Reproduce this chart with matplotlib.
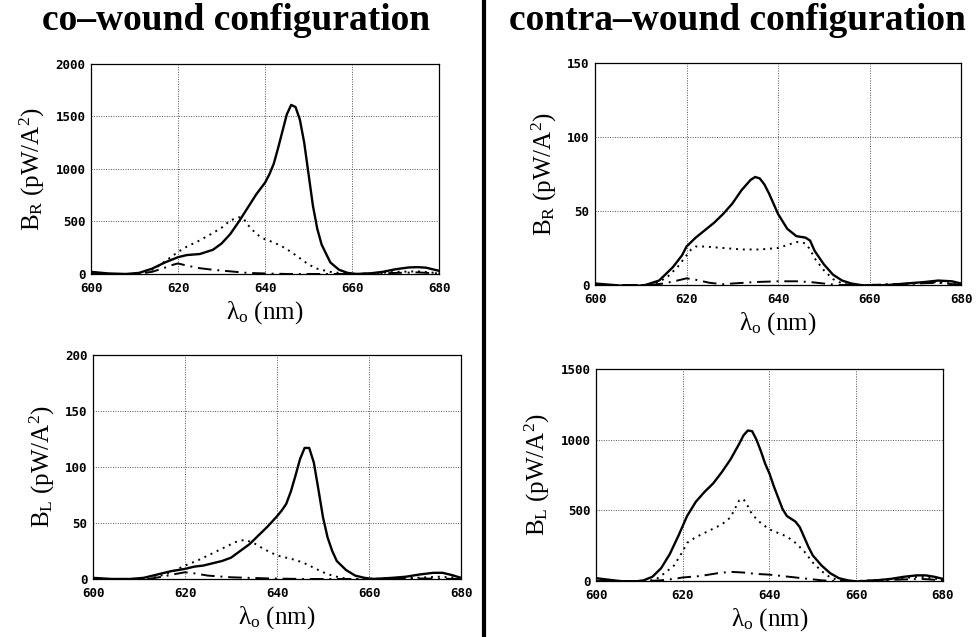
import matplotlib
matplotlib.use("Agg")
import matplotlib.pyplot as plt
from matplotlib.lines import Line2D

plt.rcParams['mathtext.fontset'] = 'custom'
plt.rcParams['mathtext.rm'] = 'Liberation Serif'
plt.rcParams['mathtext.it'] = 'Liberation Serif'

# --- co-wound, B_R ---
coR_sol_x = [600, 604, 608, 611, 614, 617, 620, 622, 625, 628, 630, 632, 634, 636, 638, 640, 641, 642, 643,
             644, 645, 646, 647, 648, 649, 650, 651, 652, 653, 655, 657, 659, 661, 664, 667, 670, 673, 675, 677, 680]
coR_sol_y = [20, 5, 0, 10, 50, 110, 160, 180, 190, 230, 290, 380, 500, 630, 760, 870, 950, 1050, 1200,
             1360, 1520, 1610, 1590, 1470, 1250, 950, 650, 430, 280, 110, 40, 10, 0, 5, 20, 45, 62, 65, 60, 30]
coR_dot_x = [600, 612, 615, 618, 620, 622, 625, 628, 630, 632, 634, 635, 636, 638, 640, 642, 644, 646, 648,
             650, 652, 655, 658, 660, 665, 670, 675, 678, 680]
coR_dot_y = [0, 0, 60, 150, 210, 260, 320, 390, 440, 510, 540, 530, 470, 380, 330, 300, 260, 210, 150,
             90, 50, 20, 5, 0, 5, 20, 25, 15, 5]
coR_dd_x = [600, 610, 614, 617, 619, 620, 622, 625, 628, 632, 636, 640, 645, 650, 660, 670, 675, 680]
coR_dd_y = [0, 0, 20, 60, 90, 100, 80, 55, 40, 25, 10, 5, 0, 0, 0, 10, 15, 5]

# --- contra-wound, B_R ---
ctR_sol_x = [600, 604, 608, 611, 614, 617, 619, 620, 622, 624, 626, 628, 630, 632, 634, 635, 636, 637, 638,
             640, 642, 644, 646, 647, 648, 650, 652, 654, 656, 658, 660, 664, 668, 672, 675, 678, 680]
ctR_sol_y = [1, 0, -1, 0, 3, 12, 20, 26, 32, 37, 42, 48, 55, 64, 71, 73, 72, 68, 62,
             48, 38, 33, 32, 30, 23, 14, 7, 3, 1, 0, -0.5, 0, 1, 2, 3, 2.5, 1]
ctR_dot_x = [600, 612, 614, 616, 618, 620, 621, 622, 624, 628, 632, 636, 640, 642, 644, 645, 646, 647, 648,
             650, 652, 654, 656, 660, 670, 675, 680]
ctR_dot_y = [0, 0, 2, 6, 12, 20, 24, 26, 26, 25, 24, 24, 25, 27, 29, 29, 28, 24, 18,
             10, 4, 1, 0, 0, 1, 2, 0]
ctR_dd_x = [600, 612, 615, 618, 620, 622, 625, 628, 630, 635, 640, 644, 647, 650, 653, 660, 670, 675, 680]
ctR_dd_y = [0, 0, 1, 3, 4.5, 3.5, 1.5, 0.5, 1, 2, 2.5, 2.5, 2, 1, 0, 0, 1, 1.5, 0]

# --- co-wound, B_L ---
coL_sol_x = [600, 604, 608, 611, 614, 617, 620, 622, 624, 626, 628, 630, 632, 634, 636, 638, 640, 641, 642,
             643, 644, 645, 646, 647, 648, 649, 650, 651, 652, 653, 655, 657, 659, 661, 665, 668, 671, 674,
             676, 678, 680]
coL_sol_y = [1, 0, 0, 1, 4, 7, 9, 11, 12, 14, 16, 19, 25, 31, 39, 47, 56, 61, 67,
             78, 92, 107, 117, 117, 104, 80, 55, 37, 25, 16, 8, 3, 1, 0, 1, 2, 4, 5.5,
             5.5, 3.5, 1]
coL_dot_x = [600, 612, 614, 617, 620, 623, 626, 629, 631, 633, 635, 637, 640, 642, 644, 646, 648, 650, 652,
             654, 656, 660, 670, 675, 680]
coL_dot_y = [0, 0, 2, 6, 12, 17, 23, 29, 33, 35, 32, 27, 21, 19, 17, 14, 10, 6, 3,
             1, 0, 0, 1, 2, 1]
coL_dd_x = [600, 612, 615, 618, 620, 622, 625, 630, 634, 638, 645, 660, 670, 680]
coL_dd_y = [0, 0, 2, 4.5, 6, 5, 3, 1.5, 1, 0.5, 0, 0, 0.5, 0]

# --- contra-wound, B_L ---
ctL_sol_x = [600, 604, 608, 611, 613, 615, 617, 619, 621, 623, 625, 627, 629, 631, 633, 634, 635, 636, 637,
             638, 639, 640, 641, 642, 643, 644, 645, 646, 647, 648, 649, 650, 652, 654, 656, 658, 660, 664,
             668, 671, 674, 676, 678, 680]
ctL_sol_y = [20, 5, -8, 5, 30, 90, 190, 320, 460, 560, 630, 690, 770, 860, 970, 1030, 1065, 1060, 1000,
             920, 830, 760, 670, 590, 510, 460, 440, 420, 380, 310, 240, 180, 110, 55, 20, 5, -3, 3,
             15, 30, 40, 40, 30, 15]
ctL_dot_x = [600, 612, 614, 616, 618, 620, 621, 623, 625, 627, 629, 631, 632, 633, 634, 635, 636, 638, 640,
             642, 644, 646, 648, 650, 652, 654, 656, 658, 660, 665, 670, 675, 680]
ctL_dot_y = [0, 0, 15, 60, 110, 210, 270, 310, 340, 370, 400, 450, 510, 570, 580, 530, 470, 410, 365,
             340, 315, 270, 210, 130, 70, 25, 5, 0, 0, 5, 20, 30, 10]
ctL_dd_x = [600, 612, 615, 618, 620, 624, 628, 631, 634, 637, 640, 643, 646, 649, 652, 655, 660, 670, 675, 680]
ctL_dd_y = [0, 0, 5, 15, 25, 35, 55, 65, 60, 50, 45, 35, 25, 15, 5, 0, 0, 10, 15, 5]

x_ticks = [600, 620, 640, 660, 680]
titles = ['co\u2013wound configuration', 'contra\u2013wound configuration']

fig = plt.figure(figsize=(9.79, 6.37), dpi=100)


def panel(rect, series, ymax, yticks, ylab):
    ax = fig.add_axes(rect)
    (sx, sy), (dx, dy), (ex, ey) = series
    ax.plot(sx, sy, color='black', lw=1.7, ls='-')
    ax.plot(dx, dy, color='black', lw=1.4, ls=(0, (1, 2.5)))
    ax.plot(ex, ey, color='black', lw=1.4, ls=(0, (7, 3, 1, 3)))
    ax.set_xlim(600, 680)
    ax.set_ylim(0, ymax)
    ax.set_xticks(x_ticks)
    ax.set_yticks(yticks)
    ax.grid(True, color='#555555', ls=(0, (1, 1.5)), lw=0.7)
    ax.tick_params(length=0, labelsize=9)
    ax.tick_params(axis='x', pad=6)
    ax.tick_params(axis='y', pad=4)
    for lab in ax.get_xticklabels() + ax.get_yticklabels():
        lab.set_family('DejaVu Sans Mono')
        lab.set_fontweight('bold')
    for s in ax.spines.values():
        s.set_linewidth(0.9)
    ax.set_xlabel(r'$\mathrm{\lambda_o}$ (nm)', family='Liberation Serif', fontsize=18, labelpad=3)
    ax.set_ylabel(ylab, family='Liberation Serif', fontsize=18, labelpad=6)
    return ax


panel([0.0930, 0.5699, 0.3555, 0.3297],
      [(coR_sol_x, coR_sol_y), (coR_dot_x, coR_dot_y), (coR_dd_x, coR_dd_y)],
      2000, [0, 500, 1000, 1500, 2000], r'$\mathrm{B_R}$ (pW/A$^2$)')
panel([0.6078, 0.5526, 0.3739, 0.3485],
      [(ctR_sol_x, ctR_sol_y), (ctR_dot_x, ctR_dot_y), (ctR_dd_x, ctR_dd_y)],
      150, [0, 50, 100, 150], r'$\mathrm{B_R}$ (pW/A$^2$)')
panel([0.0950, 0.0911, 0.3759, 0.3516],
      [(coL_sol_x, coL_sol_y), (coL_dot_x, coL_dot_y), (coL_dd_x, coL_dd_y)],
      200, [0, 50, 100, 150, 200], r'$\mathrm{B_L}$ (pW/A$^2$)')
panel([0.6088, 0.0879, 0.3544, 0.3328],
      [(ctL_sol_x, ctL_sol_y), (ctL_dot_x, ctL_dot_y), (ctL_dd_x, ctL_dd_y)],
      1500, [0, 500, 1000, 1500], r'$\mathrm{B_L}$ (pW/A$^2$)')

fig.text(236 / 979, 1 - 21 / 637, titles[0], ha='center', va='center',
         family='Liberation Serif', fontweight='bold', fontsize=27)
fig.text(737 / 979, 1 - 21 / 637, titles[1], ha='center', va='center',
         family='Liberation Serif', fontweight='bold', fontsize=27)

# divider between the two configurations
fig.add_artist(Line2D([484 / 979, 484 / 979], [0, 1], color='black', lw=3))

fig.savefig('out.png', dpi=100)
